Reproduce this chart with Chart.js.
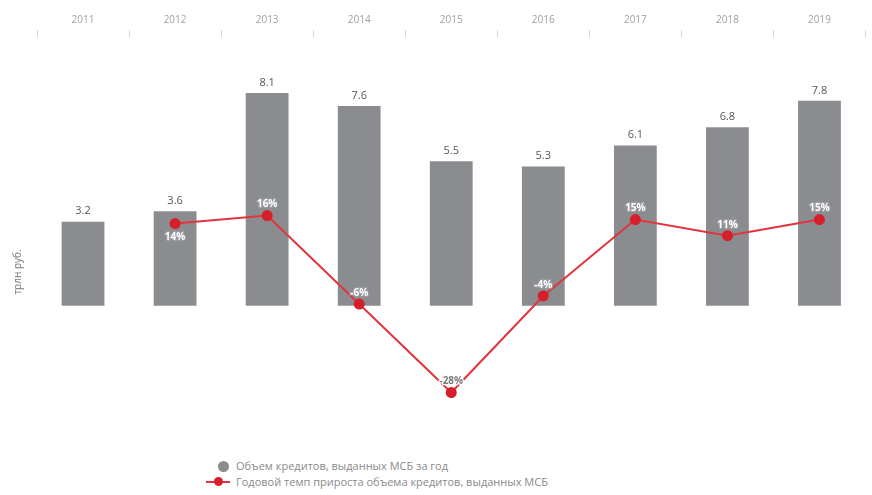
<!DOCTYPE html>
<html lang="ru">
<head>
    <meta charset="UTF-8">
    <title>Кредиты МСБ</title>
    <style>
        body { margin: 0; background: #fff; font-family: "Open Sans", sans-serif; }
        .wrap { position: relative; width: 872px; height: 450px; }
        #legend { margin-left: 206px; margin-top: 8px; font-size: 11px; color: #8a8a8a; line-height: 16px; }
        #legend div { display: flex; align-items: center; }
        .dot { display: inline-block; width: 11px; height: 11px; border-radius: 50%; margin: 0 7px 0 12px; }
        .ln { position: relative; display: inline-block; width: 24px; height: 2px; margin-right: 6px; }
        .ln i { position: absolute; left: 8px; top: -4px; width: 9px; height: 9px; border-radius: 50%; }
    </style>
</head>
<body>

<div class="wrap">
    <canvas id="myChart"></canvas>
</div>
<div id="legend"></div>

<script src="https://cdn.jsdelivr.net/npm/chart.js"></script>
<script>
    const years = ['2011', '2012', '2013', '2014', '2015', '2016', '2017', '2018', '2019'];
    const volume = [3.2, 3.6, 8.1, 7.6, 5.5, 5.3, 6.1, 6.8, 7.8];
    const growth = [null, 14, 16, -6, -28, -4, 15, 11, 15];
    const volumeLabel = 'Объем кредитов, выданных МСБ за год';
    const growthLabel = 'Годовой темп прироста объема кредитов, выданных МСБ';
    const unitLabel = 'трлн руб.';

    const barColor = '#8a8c90';
    const lineColor = '#e2343c';
    const pointColor = '#d61f2b';

    // value labels over bars and next to line points
    const valueLabels = {
        id: 'valueLabels',
        afterDatasetsDraw(chart) {
            const ctx = chart.ctx;
            const sets = chart.data.datasets;
            const barMeta = chart.getDatasetMeta(sets.findIndex(d => d.type === 'bar'));
            const lineMeta = chart.getDatasetMeta(sets.findIndex(d => d.type === 'line'));
            ctx.save();
            ctx.textAlign = 'center';
            ctx.textBaseline = 'bottom';
            ctx.font = '11px "Open Sans", sans-serif';
            ctx.fillStyle = '#555';
            barMeta.data.forEach((bar, i) => {
                ctx.fillText(volume[i].toFixed(1), bar.x, bar.y - 5);
            });
            ctx.font = 'bold 10px "Open Sans", sans-serif';
            ctx.lineWidth = 2.5;
            ctx.lineJoin = 'round';
            lineMeta.data.forEach((pt, i) => {
                if (growth[i] === null) return;
                const text = growth[i] + '%';
                // 2012 label sits under its point
                const y = i === 1 ? pt.y + 19 : pt.y - 6;
                const offBar = y - 6 > barMeta.data[i].base;
                // grey text with white halo below the bars, white with grey halo on them
                ctx.strokeStyle = offBar ? '#fff' : '#9a9ca0';
                ctx.fillStyle = offBar ? '#7a7a7a' : '#fff';
                ctx.strokeText(text, pt.x, y);
                ctx.fillText(text, pt.x, y);
            });
            ctx.restore();
        }
    };

    const unitTitle = {
        id: 'unitTitle',
        afterDraw(chart) {
            const ctx = chart.ctx;
            ctx.save();
            ctx.translate(18, 272);
            ctx.rotate(-Math.PI / 2);
            ctx.textAlign = 'center';
            ctx.textBaseline = 'middle';
            ctx.font = '10px "Open Sans", sans-serif';
            ctx.fillStyle = '#777';
            ctx.fillText(unitLabel, 0, 0);
            ctx.restore();
        }
    };

    function init() {
        let ctx = document.getElementById('myChart').getContext('2d');
        new Chart(ctx, {
            data: {
                labels: years,
                datasets: [
                    {
                        type: 'line',
                        label: growthLabel,
                        data: growth,
                        yAxisID: 'yRate',
                        borderColor: lineColor,
                        borderWidth: 2,
                        pointRadius: 4.5,
                        pointBackgroundColor: pointColor,
                        pointBorderColor: pointColor,
                        tension: 0,
                        order: 0,
                    },
                    {
                        type: 'bar',
                        label: volumeLabel,
                        data: volume,
                        yAxisID: 'y',
                        backgroundColor: barColor,
                        categoryPercentage: 1,
                        barPercentage: 0.465,
                        order: 1,
                    },
                ],
            },
            options: {
                responsive: true,
                maintainAspectRatio: false,
                animation: false,
                layout: {
                    padding: {top: 13, left: 37, right: 1, bottom: 39}
                },
                plugins: {
                    legend: {display: false},
                    tooltip: {enabled: false},
                },
                scales: {
                    x: {
                        position: 'top',
                        afterFit: scale => { scale.height = 24; },
                        grid: {
                            offset: true,
                            drawOnChartArea: false,
                            tickLength: 7,
                            color: '#d6d6d6',
                        },
                        border: {display: false},
                        ticks: {
                            padding: 4,
                            color: '#a0a0a0',
                            font: {size: 10, family: '"Open Sans", sans-serif'},
                        },
                    },
                    y: {
                        display: false,
                        min: -4,
                        max: 10.23,
                    },
                    yRate: {
                        display: false,
                        min: -32.6,
                        max: 60.4,
                    },
                },
            },
            plugins: [valueLabels, unitTitle],
        });

        // bar dataset first in the legend, then the line
        document.getElementById('legend').innerHTML =
            '<div><span class="dot" style="background:' + barColor + '"></span>' + volumeLabel + '</div>' +
            '<div><span class="ln" style="background:' + lineColor + '"><i style="background:' + pointColor + '"></i></span>' + growthLabel + '</div>';
    }

    document.addEventListener('DOMContentLoaded', init);
</script>

</body>
</html>
